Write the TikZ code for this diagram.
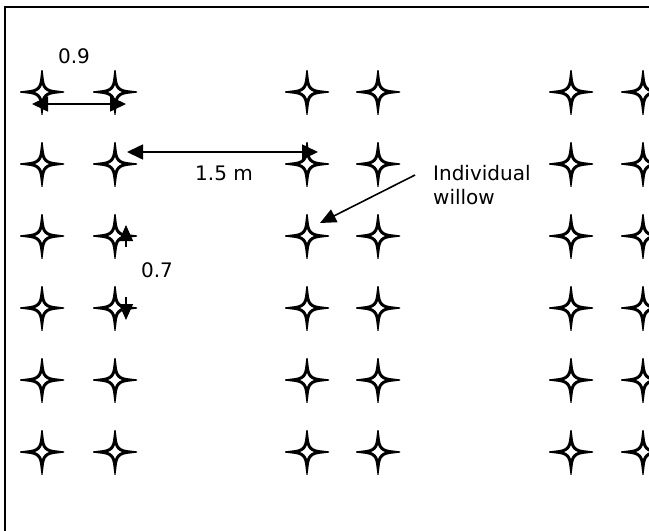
\documentclass[tikz,border=0pt]{standalone}
\usepackage{fontspec}
\setmainfont{DejaVu Sans}
\usetikzlibrary{arrows.meta,calc}

\tikzset{
  willow/.style={inner sep=0pt, minimum size=44pt, path picture={
    \draw[line width=3pt, fill=white, shift={(path picture bounding box.center)}]
      (15,0) .. controls (4,1) and (1,4) .. (0,15)
      .. controls (-1,4) and (-4,1) .. (-15,0)
      .. controls (-4,-1) and (-1,-4) .. (0,-15)
      .. controls (1,-4) and (4,-1) .. (15,0) -- cycle;}},
  lbl/.style={font=\fontsize{20}{24}\selectfont, inner sep=0pt},
  dim/.style={{Triangle[length=16pt,width=15pt]}-{Triangle[length=16pt,width=15pt]}, line width=1.6pt},
  ptr/.style={-{Triangle[length=16pt,width=14pt]}, line width=1.6pt}
}

\begin{document}
\begin{tikzpicture}[x=1pt, y=-1pt]
\useasboundingbox (0,0) rectangle (649,531);
\clip (0,0) rectangle (649,531);
\draw[line width=2pt] (5,7) rectangle (700,600);

% plantation, six rows of willows
\node[willow] (w11) at (42,92) {};  \node[willow] (w12) at (115,92) {};
\node[willow] (w13) at (307,92) {}; \node[willow] (w14) at (378,92) {};
\node[willow] (w15) at (571,92) {}; \node[willow] (w16) at (643,92) {};

\node[willow] (w21) at (42,164) {};  \node[willow] (w22) at (115,164) {};
\node[willow] (w23) at (307,164) {}; \node[willow] (w24) at (378,164) {};
\node[willow] (w25) at (571,164) {}; \node[willow] (w26) at (643,164) {};

\node[willow] (w31) at (42,236) {};  \node[willow] (w32) at (115,236) {};
\node[willow] (w33) at (307,236) {}; \node[willow] (w34) at (378,236) {};
\node[willow] (w35) at (571,236) {}; \node[willow] (w36) at (643,236) {};

\node[willow] (w41) at (42,308) {};  \node[willow] (w42) at (115,308) {};
\node[willow] (w43) at (307,308) {}; \node[willow] (w44) at (378,308) {};
\node[willow] (w45) at (571,308) {}; \node[willow] (w46) at (643,308) {};

\node[willow] (w51) at (42,380) {};  \node[willow] (w52) at (115,380) {};
\node[willow] (w53) at (307,380) {}; \node[willow] (w54) at (378,380) {};
\node[willow] (w55) at (571,380) {}; \node[willow] (w56) at (643,380) {};

\node[willow] (w61) at (42,452) {};  \node[willow] (w62) at (115,452) {};
\node[willow] (w63) at (307,452) {}; \node[willow] (w64) at (378,452) {};
\node[willow] (w65) at (571,452) {}; \node[willow] (w66) at (643,452) {};

% spacings
\coordinate (d9a) at ($(w11)+(-10,12)$); \coordinate (d9b) at ($(w12)+(11,12)$);
\coordinate (d15a) at ($(w22)+(12,-12)$); \coordinate (d15b) at ($(w23)+(11,-12)$);
\coordinate (d7a) at ($(w32)+(11,11)$); \coordinate (d7b) at ($(w32)+(11,-11)$);
\coordinate (d7c) at ($(w42)+(11,-11)$); \coordinate (d7d) at ($(w42)+(11,12)$);
\coordinate (tag) at (415,175);

\draw[dim] (d9a) -- (d9b);
\draw[dim] (d15a) -- (d15b);
\draw[ptr, line width=1.2pt] (d7a) -- (d7b);
\draw[ptr, line width=1.2pt] (d7c) -- (d7d);
\draw[ptr] (tag) -- ($(w33)+(13,-13)$);

\node[lbl] (l9) at (74,56) {0.9};
\node[lbl] (l15) at (224,173) {1.5 m};
\node[lbl] (l7) at (157,270) {0.7};
\node[lbl, align=left, anchor=west] (ltag) at (433,185) {Individual\\willow};
\end{tikzpicture}
\end{document}
